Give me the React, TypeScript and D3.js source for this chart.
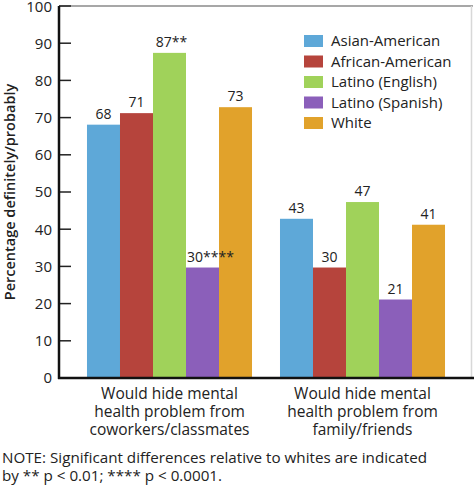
import React from "react";
import * as d3 from "d3";

const categories = [
  ["Would hide mental", "health problem from", "coworkers/classmates"],
  ["Would hide mental", "health problem from", "family/friends"],
];
const categoryKeys = ["coworkers", "family"];
const seriesNames = ["Asian-American", "African-American", "Latino (English)", "Latino (Spanish)", "White"];
const seriesColors = ["#5ea8d8", "#b6443c", "#a0d25a", "#8b5fba", "#e1a22b"];
const coworkersValues = [68.1, 71.2, 87.4, 29.7, 72.8];
const familyValues = [42.8, 29.7, 47.3, 21.1, 41.2];
const coworkersLabels = ["68", "71", "87**", "30****", "73"];
const familyLabels = ["43", "30", "47", "21", "41"];
const yTicks = [0, 10, 20, 30, 40, 50, 60, 70, 80, 90, 100];
const noteLines = [
  "NOTE: Significant differences relative to whites are indicated",
  "by ** p < 0.01; **** p < 0.0001.",
];

const W = 474;
const H = 503;
const left = 59;
const right = 473;
const top = 6;
const bottom = 378;
const font = "'Open Sans', sans-serif";

export default function App() {
  const x0 = d3.scaleBand<string>().domain(categoryKeys).range([left, right]).paddingInner(0.145).paddingOuter(0.145);
  const x1 = d3.scaleBand<string>().domain(seriesNames).range([0, x0.bandwidth()]);
  const y = d3.scaleLinear().domain([0, 100]).range([bottom, top]);
  const values = [coworkersValues, familyValues];
  const labels = [coworkersLabels, familyLabels];
  const labelShift = (t: string) => (t.length > 4 ? 8 : t.length > 2 ? 2 : 0);

  return (
    <svg width={W} height={H} style={{ position: "absolute", left: 0, top: 0, background: "#fff" }} fontFamily={font}>
      <rect x={0} y={0} width={W} height={H} fill="#fff" />
      {/* frame */}
      <line x1={left} x2={right} y1={top} y2={top} stroke="#8a8a8a" strokeWidth={1.5} />
      <line x1={471.5} x2={471.5} y1={top} y2={bottom} stroke="#d8d8d8" strokeWidth={1.5} />
      {/* bars */}
      {categoryKeys.map((k, gi) => (
        <g key={k} transform={`translate(${x0(k)},0)`}>
          {seriesNames.map((s, si) => {
            const v = values[gi][si];
            return (
              <rect key={s} x={x1(s)!} y={y(v)} width={x1.bandwidth()} height={bottom - y(v)} fill={seriesColors[si]} />
            );
          })}
        </g>
      ))}
      {/* value labels */}
      {categoryKeys.map((k, gi) => (
        <g key={k} transform={`translate(${x0(k)},0)`}>
          {seriesNames.map((s, si) => {
            const v = values[gi][si];
            const t = labels[gi][si];
            return (
              <text
                key={s}
                x={x1(s)! + x1.bandwidth() / 2 + labelShift(t)}
                y={y(v) - 6}
                textAnchor="middle"
                fontSize={14}
                fill="#222"
              >
                {t}
              </text>
            );
          })}
        </g>
      ))}
      {/* y axis */}
      {yTicks.map((t) => (
        <g key={t}>
          <line x1={left} x2={left + 12} y1={y(t)} y2={y(t)} stroke="#222" strokeWidth={1.5} />
          <text x={52} y={y(t)} dy={t === 100 ? "0.42em" : "0.36em"} textAnchor="end" fontSize={15} fill="#222">
            {t}
          </text>
        </g>
      ))}
      <line x1={left} x2={left} y1={top} y2={bottom + 1} stroke="#111" strokeWidth={2.5} />
      <line x1={left - 1} x2={W} y1={bottom} y2={bottom} stroke="#111" strokeWidth={2.5} />
      <text
        transform={`translate(15,${(top + bottom) / 2}) rotate(-90)`}
        textAnchor="middle"
        fontSize={14.5}
        fontWeight={600}
        fill="#222"
      >
        Percentage definitely/probably
      </text>
      {/* category labels */}
      {categoryKeys.map((k, gi) => (
        <text key={k} textAnchor="middle" fontSize={15.5} fill="#222">
          {categories[gi].map((line, li) => (
            <tspan key={li} x={x0(k)! + x0.bandwidth() / 2} y={399 + li * 18}>
              {line}
            </tspan>
          ))}
        </text>
      ))}
      {/* legend */}
      {seriesNames.map((s, si) => (
        <g key={s} transform={`translate(304,${35 + si * 20.5})`}>
          <rect x={0} y={0} width={19} height={12} fill={seriesColors[si]} />
          <text x={27} y={6} dy="0.36em" fontSize={15} fill="#222">
            {s}
          </text>
        </g>
      ))}
      {/* note */}
      <text fontSize={15.2} fill="#222">
        {noteLines.map((l, i) => (
          <tspan key={i} x={2} y={463 + i * 17.5}>
            {l}
          </tspan>
        ))}
      </text>
    </svg>
  );
}
